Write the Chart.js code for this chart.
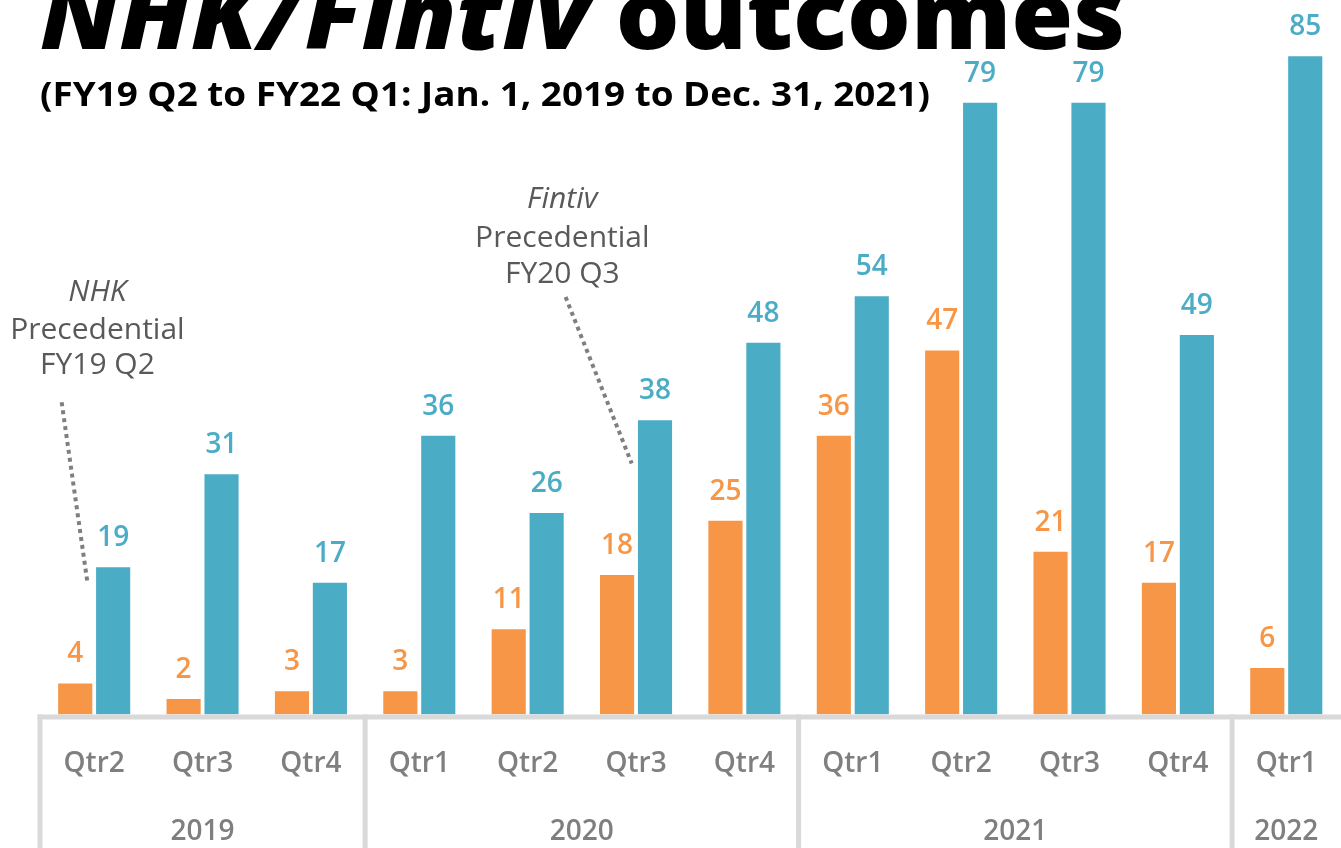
<!DOCTYPE html>
<html>
<head>
<meta charset="utf-8">
<title>NHK/Fintiv outcomes</title>
<script src="https://cdn.jsdelivr.net/npm/chart.js@4.4.1/dist/chart.umd.min.js"></script>
<style>
  html, body { margin: 0; padding: 0; background: #fff; overflow: hidden; }
  #chart { display: block; }
</style>
</head>
<body>
<canvas id="chart" width="1350" height="848"></canvas>
<script>
// Chart data
const quarters = ['Qtr2', 'Qtr3', 'Qtr4', 'Qtr1', 'Qtr2', 'Qtr3', 'Qtr4', 'Qtr1', 'Qtr2', 'Qtr3', 'Qtr4', 'Qtr1'];
const years = ['2019', '2020', '2021', '2022'];
const yearSpans = [3, 4, 4, 1];
const orangeValues = [4, 2, 3, 3, 11, 18, 25, 36, 47, 21, 17, 6];
const blueValues = [19, 31, 17, 36, 26, 38, 48, 54, 79, 79, 49, 85];

const titleItalic = 'NHK/Fintiv';
const titleRest = ' outcomes';
const subtitle = '(FY19 Q2 to FY22 Q1: Jan. 1, 2019 to Dec. 31, 2021)';

// Callouts, placed in data units (category index offset, y value)
const callouts = [
  {idx: 0, lines: [['NHK', true], ['Precedential', false], ['FY19 Q2', false]], textDx: 0.03, textY: [54.5, 49.6, 45.0],
   from: [-0.30, 40.3], to: [-0.065, 17.3]},
  {idx: 5, lines: [['Fintiv', true], ['Precedential', false], ['FY20 Q3', false]], textDx: -0.68, textY: [66.5, 61.5, 56.8],
   from: [-0.65, 53.9], to: [-0.04, 32.4]}
];

const ORANGE = '#f79646';
const BLUE = '#4bacc6';
const GRID = '#d9d9d9';
const FONT = '"Open Sans", "Noto Sans", sans-serif';

// Draws title, value labels, callouts, axis line and year groups
const decorPlugin = {
  id: 'decor',
  afterDatasetsDraw(chart) {
    const ctx = chart.ctx;
    const x = chart.scales.x;
    const y = chart.scales.y;
    const area = chart.chartArea;
    const step = x.getPixelForValue(1) - x.getPixelForValue(0);

    ctx.save();

    // value labels above bars
    ctx.textAlign = 'center';
    ctx.textBaseline = 'middle';
    ctx.font = '600 28px ' + FONT;
    chart.data.datasets.forEach((ds, di) => {
      chart.getDatasetMeta(di).data.forEach((bar, i) => {
        ctx.fillStyle = ds.backgroundColor;
        ctx.fillText(String(ds.data[i]), bar.x, bar.y - 29);
      });
    });

    // axis line
    ctx.strokeStyle = GRID;
    ctx.lineWidth = 5;
    ctx.beginPath();
    ctx.moveTo(area.left - 2.5, area.bottom + 2.5);
    ctx.lineTo(area.right + 10, area.bottom + 2.5);
    ctx.stroke();

    // year separators and labels
    let start = 0;
    ctx.font = '600 28px ' + FONT;
    ctx.fillStyle = '#7f7f7f';
    yearSpans.forEach((span, k) => {
      const left = x.getPixelForValue(start) - step / 2;
      const right = x.getPixelForValue(start + span - 1) + step / 2;
      ctx.beginPath();
      ctx.moveTo(left, area.bottom);
      ctx.lineTo(left, chart.height);
      ctx.stroke();
      ctx.fillText(years[k], (left + right) / 2, area.bottom + 118);
      start += span;
    });

    // callouts
    callouts.forEach(c => {
      const cx = x.getPixelForValue(c.idx);
      ctx.fillStyle = '#595959';
      c.lines.forEach((ln, j) => {
        ctx.font = (ln[1] ? 'italic ' : '') + '400 30px ' + FONT;
        ctx.fillText(ln[0], cx + c.textDx * step, y.getPixelForValue(c.textY[j]));
      });
      ctx.strokeStyle = '#7f7f7f';
      ctx.lineWidth = 4;
      ctx.setLineDash([4, 4]);
      ctx.beginPath();
      ctx.moveTo(cx + c.from[0] * step, y.getPixelForValue(c.from[1]));
      ctx.lineTo(cx + c.to[0] * step, y.getPixelForValue(c.to[1]));
      ctx.stroke();
      ctx.setLineDash([]);
    });

    // title, squeezed to span the original width
    ctx.fillStyle = '#000';
    ctx.textAlign = 'left';
    ctx.textBaseline = 'alphabetic';
    const fItalic = 'italic 800 96px ' + FONT;
    const fBold = '800 96px ' + FONT;
    ctx.font = fItalic;
    const w1 = ctx.measureText(titleItalic).width;
    ctx.font = fBold;
    const w2 = ctx.measureText(titleRest).width;
    const sx = (1125 - 40) / (w1 + w2);
    ctx.save();
    ctx.translate(40, 49);
    ctx.scale(sx, 1);
    ctx.font = fItalic;
    ctx.fillText(titleItalic, 0, 0);
    ctx.font = fBold;
    ctx.fillText(titleRest, w1, 0);
    ctx.restore();

    ctx.font = '700 34px ' + FONT;
    const ws = ctx.measureText(subtitle).width;
    ctx.save();
    ctx.translate(40, 106);
    ctx.scale((930 - 40) / ws, 1);
    ctx.fillText(subtitle, 0, 0);
    ctx.restore();

    ctx.restore();
  }
};

new Chart(document.getElementById('chart'), {
  type: 'bar',
  data: {
    labels: quarters,
    datasets: [
      {label: 'Orange', data: orangeValues, backgroundColor: ORANGE, categoryPercentage: 0.7, barPercentage: 0.9},
      {label: 'Blue', data: blueValues, backgroundColor: BLUE, categoryPercentage: 0.7, barPercentage: 0.9}
    ]
  },
  options: {
    responsive: false,
    animation: false,
    devicePixelRatio: 1,
    layout: {padding: {left: 40, right: 3, top: 2, bottom: 34}},
    plugins: {legend: {display: false}, tooltip: {enabled: false}},
    scales: {
      x: {
        grid: {display: false, drawTicks: false},
        border: {display: false},
        ticks: {color: '#7f7f7f', font: {family: FONT, size: 28, weight: '600'}, padding: 33, maxRotation: 0, autoSkip: false}
      },
      y: {display: false, min: 0, max: 92}
    }
  },
  plugins: [decorPlugin]
});
</script>
</body>
</html>
